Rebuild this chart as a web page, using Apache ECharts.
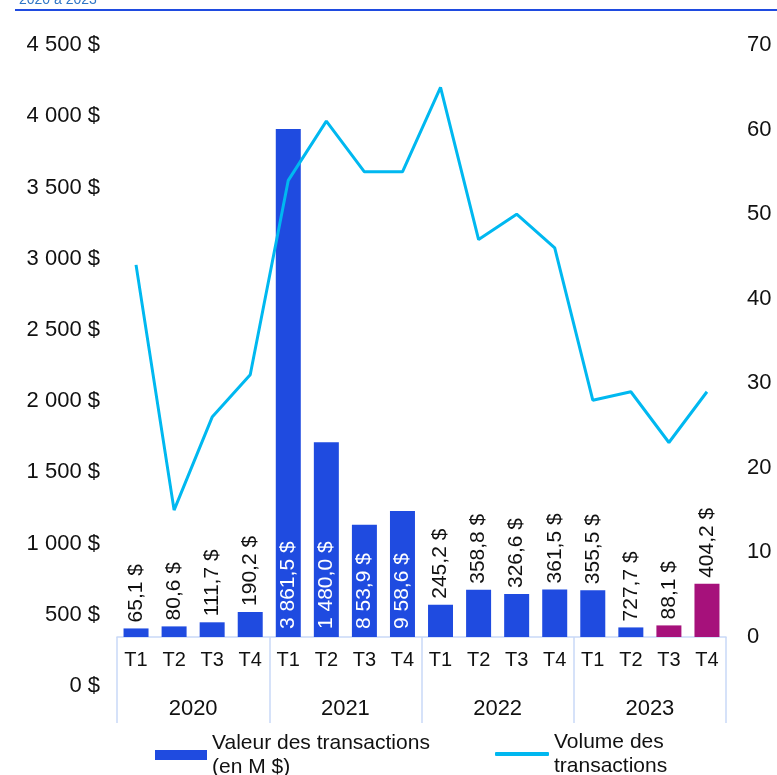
<!DOCTYPE html>
<html>
<head>
<meta charset="utf-8">
<script src="https://cdn.jsdelivr.net/npm/echarts@6/dist/echarts.min.js"></script>
<style>
  html, body { margin: 0; padding: 0; background: #fff; }
  #chart { width: 777px; height: 775px; }
</style>
</head>
<body>
<div id="chart"></div>
<script>
var years = ['2020', '2021', '2022', '2023'];
var quarters = ['T1', 'T2', 'T3', 'T4', 'T1', 'T2', 'T3', 'T4', 'T1', 'T2', 'T3', 'T4', 'T1', 'T2', 'T3', 'T4'];
// valeur (M $) telle que dessinée
var valeurs = [65.1, 80.6, 111.7, 190.2, 3861.5, 1480.0, 853.9, 958.6, 245.2, 358.8, 326.6, 361.5, 355.5, 72.8, 88.1, 404.2];
// étiquettes telles qu'affichées
var etiquettes = ['65,1 $', '80,6 $', '111,7 $', '190,2 $', '3 861,5 $', '1 480,0 $', '8 53,9 $', '9 58,6 $',
    '245,2 $', '358,8 $', '326,6 $', '361,5 $', '355,5 $', '727,7 $', '88,1 $', '404,2 $'];
var volumes = [44, 15, 26, 31, 54, 61, 55, 55, 65, 47, 50, 46, 28, 29, 23, 29];
var valeurTicks = [0, 500, 1000, 1500, 2000, 2500, 3000, 3500, 4000, 4500];

var FONT = '"Liberation Sans", Arial, sans-serif';
var BLUE = '#1f4be0';
var MAGENTA = '#a6117b';
var CYAN = '#00b8f0';
var SEP = '#c9d9f7';

function dollars(v) {
    var s = String(v);
    if (v >= 1000) s = s.slice(0, s.length - 3) + ' ' + s.slice(-3);
    return s + ' $';
}

var barData = valeurs.map(function (v, i) {
    var inside = v > 800;
    return {
        value: v,
        itemStyle: { color: i >= 14 ? MAGENTA : BLUE },
        label: {
            show: true,
            formatter: etiquettes[i],
            position: inside ? 'insideBottom' : 'top',
            distance: inside ? 8 : 6,
            rotate: 90,
            align: 'left',
            verticalAlign: 'middle',
            color: inside ? '#fff' : '#111',
            fontSize: 21,
            fontFamily: FONT
        }
    };
});

var chart = echarts.init(document.getElementById('chart'));
var legendText = { fontSize: 21, color: '#111', fontFamily: FONT, lineHeight: 24 };
var option = {
    animation: false,
    title: {
        text: '2020 à 2023',
        left: 14,
        top: -12,
        textStyle: { color: '#2e75c6', fontSize: 14, fontWeight: 'normal', fontFamily: FONT }
    },
    graphic: [{
        type: 'line',
        shape: { x1: 15, y1: 10, x2: 777, y2: 10 },
        style: { stroke: BLUE, lineWidth: 2 }
    }],
    grid: [
        { left: 117, right: 51, top: 45, bottom: 138 },
        { left: 117, right: 51, top: 45, bottom: 89 }
    ],
    legend: [{
        data: ['Valeur des transactions\n(en M $)'],
        left: 150,
        top: 726,
        itemWidth: 52,
        itemHeight: 10,
        itemGap: 6,
        icon: 'rect',
        textStyle: legendText
    }, {
        data: ['Volume des\ntransactions'],
        left: 490,
        top: 725,
        itemWidth: 54,
        itemHeight: 4,
        itemGap: 4,
        icon: 'roundRect',
        textStyle: legendText
    }],
    xAxis: [{
        type: 'category',
        gridIndex: 0,
        data: quarters,
        position: 'bottom',
        axisLine: { show: false },
        axisTick: { show: false },
        axisLabel: { fontSize: 20, color: '#111', fontFamily: FONT, margin: 13 }
    }, {
        type: 'category',
        gridIndex: 0,
        data: years,
        position: 'bottom',
        axisLine: { show: true, lineStyle: { color: SEP, width: 1.5 } },
        axisTick: { show: true, length: 86, lineStyle: { color: SEP, width: 1.5 } },
        axisLabel: { fontSize: 22, color: '#111', fontFamily: FONT, margin: 61 }
    }, {
        type: 'category',
        gridIndex: 1,
        data: years,
        show: false
    }],
    yAxis: [{
        type: 'value',
        gridIndex: 0,
        min: 0,
        max: 4500,
        interval: 500,
        axisLabel: { show: false },
        axisLine: { show: false },
        axisTick: { show: false },
        splitLine: { show: false }
    }, {
        type: 'value',
        gridIndex: 0,
        position: 'right',
        min: 0,
        max: 70,
        interval: 10,
        axisLabel: { fontSize: 22, color: '#111', fontFamily: FONT, margin: 21 },
        axisLine: { show: false },
        axisTick: { show: false },
        splitLine: { show: false }
    }, {
        type: 'value',
        gridIndex: 1,
        min: valeurTicks[0],
        max: valeurTicks[valeurTicks.length - 1],
        interval: valeurTicks[1] - valeurTicks[0],
        axisLabel: { fontSize: 22, color: '#111', fontFamily: FONT, margin: 17, formatter: dollars },
        axisLine: { show: false },
        axisTick: { show: false },
        splitLine: { show: false }
    }],
    series: [{
        name: 'Valeur des transactions\n(en M $)',
        type: 'bar',
        xAxisIndex: 0,
        yAxisIndex: 0,
        barWidth: 25,
        itemStyle: { color: BLUE },
        data: barData
    }, {
        name: 'Volume des\ntransactions',
        type: 'line',
        xAxisIndex: 0,
        yAxisIndex: 1,
        symbol: 'none',
        itemStyle: { color: CYAN },
        lineStyle: { color: CYAN, width: 3 },
        data: volumes
    }]
};
chart.setOption(option);
</script>
</body>
</html>
